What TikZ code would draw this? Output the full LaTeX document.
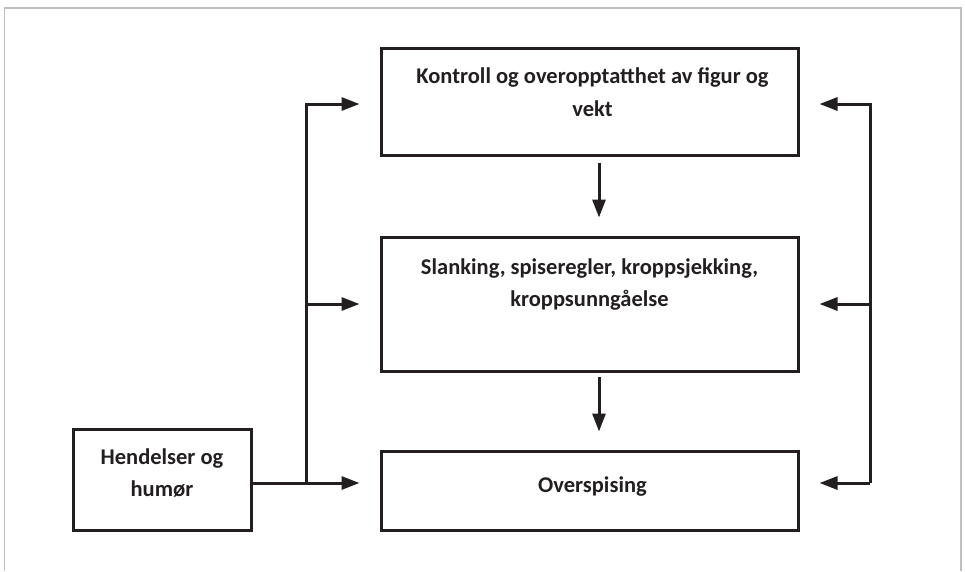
\documentclass[tikz,border=0pt]{standalone}
\usepackage{fontspec}
\setmainfont{Carlito}
\definecolor{inkdark}{HTML}{231F20}
\definecolor{framegray}{HTML}{BEBEBE}
\usepackage{tikz}
\usetikzlibrary{arrows.meta,positioning,calc}

\begin{document}
\begin{tikzpicture}[
  x=1pt, y=-1pt,
  box/.style={draw=inkdark, line width=3pt, rectangle, inner sep=0pt},
  txt/.style={font=\fontsize{22.5}{32.5}\selectfont\bfseries, text=inkdark,
    align=center, inner sep=0pt, anchor=north},
  line/.style={draw=inkdark, line width=3pt},
  arr/.style={line, -{Triangle[length=18pt,width=13pt]}, shorten >=20pt}
]
  \useasboundingbox (0,0) rectangle (965,571);
  \draw[framegray, line width=1.5pt] (4.5,571) -- (4.5,8) -- (961,8) -- (961,571);

  \node[box, minimum width=417pt, minimum height=107pt] (kontroll) at (589.5,101.5) {};
  \node[box, minimum width=417pt, minimum height=134pt] (slanking) at (589.5,304) {};
  \node[box, minimum width=417pt, minimum height=79pt] (overspising) at (589.5,490.5) {};
  \node[box, minimum width=178pt, minimum height=101pt] (hendelser) at (162,479.5) {};

  \node[txt] (kontrolltxt) at ($(kontroll.north)+(3,21)$) {Kontroll og overopptatthet av figur og\\vekt};
  \node[txt] (slankingtxt) at ($(slanking.north)+(0,23)$) {Slanking, spiseregler, kroppsjekking,\\kroppsunngåelse};
  \node[txt] (overspisingtxt) at ($(overspising.north)+(3,27)$) {Overspising};
  \node[txt] (hendelsertxt) at ($(hendelser.north)+(0,21)$) {Hendelser og\\humør};

  \coordinate (lsplit) at (306,483);
  \coordinate (ltop) at (306,104);
  \coordinate (rsplit) at (870,483);
  \coordinate (rtop) at (870,104);

  \draw[arr] (hendelser.east |- lsplit) -- (overspising.west |- lsplit);
  \draw[arr] (lsplit) |- (kontroll.west |- ltop);
  \draw[arr] (lsplit |- slanking.west) -- (slanking.west);

  \draw[arr] (rsplit) |- (kontroll.east |- rtop);
  \draw[arr] (rsplit |- slanking.east) -- (slanking.east);
  \draw[arr] (rsplit) -- (overspising.east |- rsplit);

  \draw[arr, shorten <=6pt, shorten >=18pt] ([xshift=9.5pt]kontroll.south) -- ([xshift=9.5pt]slanking.north);
  \draw[arr, shorten <=4pt, shorten >=18pt] ([xshift=9.5pt]slanking.south) -- ([xshift=9.5pt]overspising.north);
\end{tikzpicture}
\end{document}
